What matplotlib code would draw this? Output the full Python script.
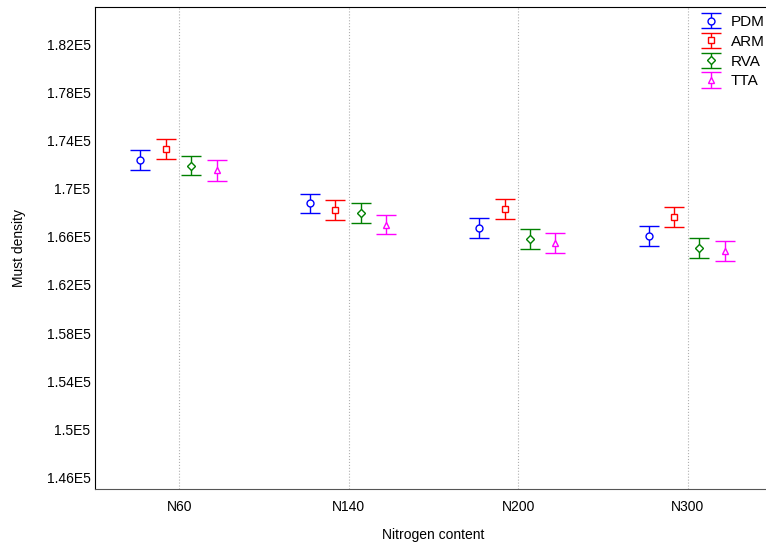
import numpy as np
import matplotlib
matplotlib.use("Agg")
import matplotlib.pyplot as plt
from matplotlib.ticker import FuncFormatter

plt.rcParams['font.family'] = ['Liberation Sans', 'DejaVu Sans']

# data (mean and half width of error bar)
groups = ["N60", "N140", "N200", "N300"]
series = ["PDM", "ARM", "RVA", "TTA"]
pdm = [172400, 168780, 166780, 166060]
arm = [173330, 168250, 168330, 167640]
rva = [171940, 167980, 165860, 165060]
tta = [171540, 167030, 165530, 164810]
errs = [[830, 830, 830, 830],
        [830, 830, 830, 830],
        [830, 830, 830, 830],
        [870, 830, 830, 830]]
yticks = [146000, 150000, 154000, 158000, 162000, 166000, 170000, 174000, 178000, 182000]

colors = ["#0000ff", "#ff0000", "#008000", "#ff00ff"]
markers = ["o", "s", "D", "^"]
msizes = [5, 5, 4.5, 5]
offsets = [-0.23, -0.08, 0.07, 0.22]

fig = plt.figure(figsize=(7.66, 5.46), dpi=100)
ax = fig.add_axes([0.1236, 0.1038, 0.8846, 0.8828])

x = np.arange(len(groups))
for i, vals in enumerate([pdm, arm, rva, tta]):
    ax.errorbar(x + offsets[i], vals, yerr=errs[i], fmt=markers[i],
                color=colors[i], mfc="white", mec=colors[i], ms=msizes[i],
                mew=1, elinewidth=1, capsize=7, capthick=1, label=series[i])

ax.set_xlim(-0.5, 3.5)
ax.set_ylim(145000, 185100)
ax.set_xticks(x)
ax.set_xticklabels(groups)
ax.set_yticks(yticks)
ax.yaxis.set_major_formatter(FuncFormatter(lambda v, p: "%gE5" % (v / 1e5)))
ax.tick_params(length=0, labelsize=10)
ax.tick_params(axis="y", pad=3)
ax.tick_params(axis="x", pad=8)
ax.xaxis.grid(True, linestyle=":", color="#b0b0b0", linewidth=0.8)
ax.set_axisbelow(True)
for s in ax.spines.values():
    s.set_linewidth(0.8)
ax.spines['bottom'].set_color("#555555")

ax.set_xlabel("Nitrogen content", fontsize=10, labelpad=10)
ax.set_ylabel("Must density", fontsize=10, labelpad=15)

ax.legend(loc="upper left", bbox_to_anchor=(698 / 766, (546 - 15) / 546),
          bbox_transform=fig.transFigure,
          frameon=False, fontsize=11, handlelength=1.7, handletextpad=0.45,
          labelspacing=0.38, borderpad=0, borderaxespad=0)

fig.savefig("out.png", dpi=100)
